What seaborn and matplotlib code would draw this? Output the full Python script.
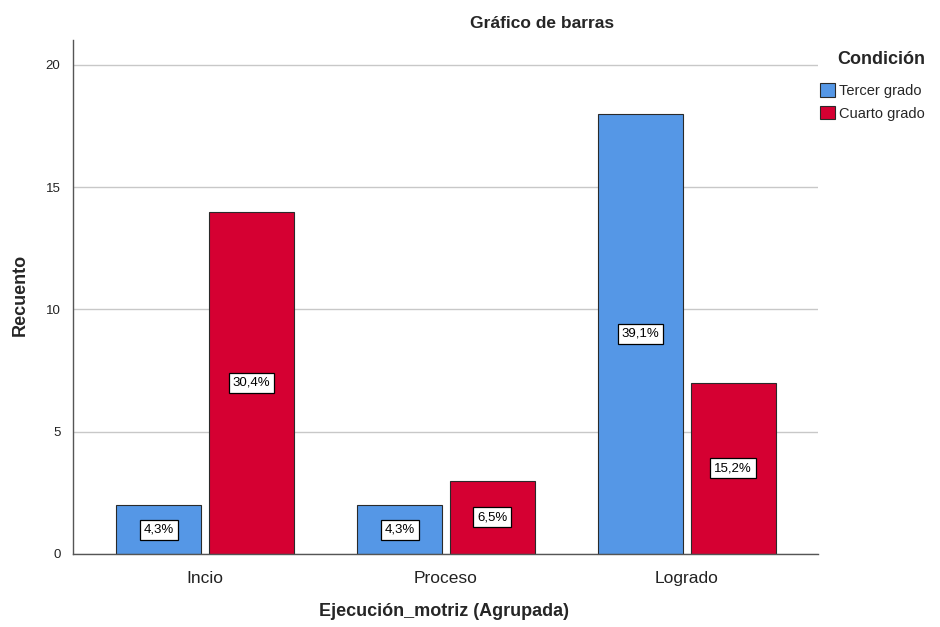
import matplotlib
matplotlib.use("Agg")
import matplotlib.pyplot as plt
import seaborn as sns
import pandas as pd
from matplotlib.patches import Patch

categories = ["Incio", "Proceso", "Logrado"]
groups = ["Tercer grado", "Cuarto grado"]
tercer = [2, 2, 18]
cuarto = [14, 3, 7]
pct_tercer = ["4,3%", "4,3%", "39,1%"]
pct_cuarto = ["30,4%", "6,5%", "15,2%"]
yticks = [0, 5, 10, 15, 20]

df = pd.DataFrame({
    "cat": categories * 2,
    "grp": [groups[0]] * 3 + [groups[1]] * 3,
    "val": tercer + cuarto,
    "lab": pct_tercer + pct_cuarto,
})

sns.set_style("white")
plt.rcParams["font.family"] = ["Liberation Sans", "DejaVu Sans"]

colors = {"Tercer grado": "#5597E6", "Cuarto grado": "#D50032"}

fig = plt.figure(figsize=(9.4, 6.27), dpi=100)
ax = fig.add_axes([73 / 940, 1 - 554 / 627, (818 - 73) / 940, (554 - 40) / 627])
ax.yaxis.grid(True, color="#c8c8c8", linewidth=1)
ax.set_axisbelow(True)

sns.barplot(data=df, x="cat", y="val", hue="grp", hue_order=groups,
            order=categories, palette=colors, width=0.77, gap=0.085,
            edgecolor="#2a2a2a", linewidth=0.8, ax=ax, legend=False,
            saturation=1)

for cont, labs in zip(ax.containers, [pct_tercer, pct_cuarto]):
    for bar, lab in zip(cont, labs):
        x = bar.get_x() + bar.get_width() / 2
        y = bar.get_height() / 2
        ax.text(x, y, lab, ha="center", va="center", fontsize=9.5, color="black",
                bbox=dict(boxstyle="square,pad=0.3", facecolor="white",
                          edgecolor="black", linewidth=0.9))

ax.set_ylim(0, 21.02)
ax.set_xlim(-0.548, 2.544)
ax.set_yticks(yticks)
ax.set_yticklabels([str(t) for t in yticks], fontsize=9.5, color="#222222")
ax.tick_params(axis="x", labelsize=12.5, length=0, pad=12)
ax.tick_params(axis="y", length=0, pad=9)
for lbl in ax.get_xticklabels():
    lbl.set_color("#222222")

for s in ["top", "right"]:
    ax.spines[s].set_visible(False)
ax.spines["left"].set_color("#555555")
ax.spines["bottom"].set_color("#555555")
ax.spines["left"].set_linewidth(1)
ax.spines["bottom"].set_linewidth(1)

ax.set_xlabel("Ejecución_motriz (Agrupada)", fontsize=13, fontweight="bold")
ax.set_ylabel("Recuento", fontsize=13, fontweight="bold")
ax.xaxis.set_label_coords((444 - 73) / 745, -(612 - 554) / 514)
ax.yaxis.set_label_coords(-(73 - 20) / 745, (554 - 295) / 514)
ax.xaxis.label.set_va("center")
ax.yaxis.label.set_va("center")

fig.text(542 / 940, 1 - 24 / 627, "Gráfico de barras", ha="center", va="center",
         fontsize=12.5, fontweight="bold")

fig.text(881 / 940, 1 - 60 / 627, "Condición", ha="center", va="center",
         fontsize=13, fontweight="bold")

handles = [Patch(facecolor=colors[g], edgecolor="#2a2a2a", linewidth=0.8) for g in groups]
leg = fig.legend(handles, groups, loc="upper left", bbox_to_anchor=(819 / 940, 1 - 82 / 627),
                 frameon=False, fontsize=10.5,
                 handlelength=1.0, handleheight=1.0, handletextpad=0.25,
                 labelspacing=0.55, borderaxespad=0, borderpad=0.1)

fig.savefig("out.png", dpi=100)
